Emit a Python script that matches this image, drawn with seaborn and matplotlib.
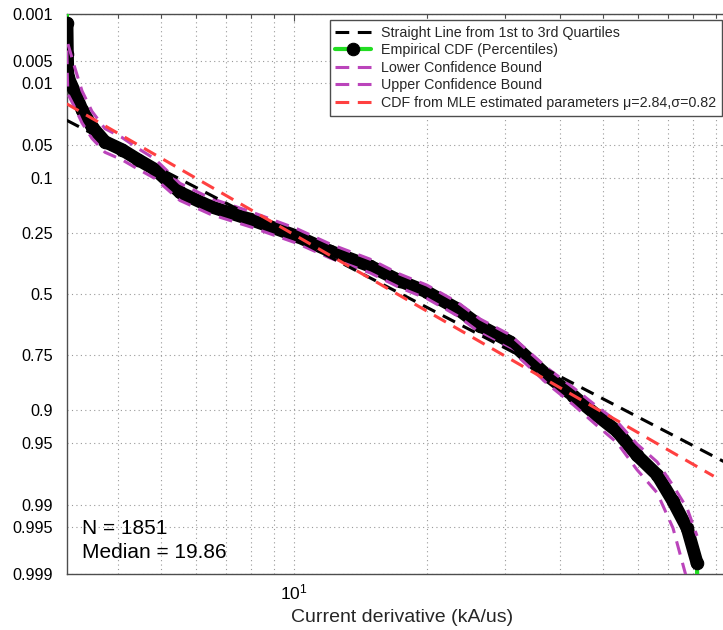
import numpy as np
import pandas as pd
import matplotlib
matplotlib.use("Agg")
import matplotlib.pyplot as plt
from matplotlib.ticker import FixedLocator, NullFormatter, FixedFormatter
import seaborn as sns
from statistics import NormalDist

# ---------------- data ----------------
p_emp = [0.0003, 0.0014, 0.004, 0.0083, 0.0132, 0.021, 0.0324, 0.0464, 0.0556, 0.069,
         0.0848, 0.131, 0.167, 0.205, 0.262, 0.318, 0.379, 0.443, 0.491, 0.565,
         0.637, 0.701, 0.816, 0.869, 0.910, 0.935, 0.9625, 0.977, 0.9889, 0.9951,
         0.9985, 0.9997]
x_emp = [3.06, 3.064, 3.07, 3.08, 3.196, 3.314, 3.49, 3.735, 4.08, 4.436,
         4.85, 5.52, 6.46, 7.95, 10.16, 12.06, 14.86, 17.37, 20.0, 23.4,
         26.35, 30.8, 37.4, 42.8, 48.5, 53.8, 59.7, 66.3, 72.0, 77.5,
         81.6, 81.8]
p_lower = [np.nan, np.nan, np.nan, 0.0029, 0.0064, 0.0125, 0.0219, 0.0340, 0.0420, 0.0540,
           0.0683, 0.1110, 0.1449, 0.1811, 0.2360, 0.2904, 0.3503, 0.4136, 0.4614, 0.5356,
           0.6085, 0.6739, 0.7931, 0.8490, 0.8931, 0.9204, 0.9512, 0.9681, 0.9827, 0.9910,
           0.9962, np.nan]
p_upper = [np.nan, 0.0036, 0.0077, 0.0137, 0.0200, 0.0295, 0.0429, 0.0589, 0.0692, 0.0840,
           0.1013, 0.1510, 0.1891, 0.2289, 0.2880, 0.3456, 0.4077, 0.4724, 0.5206, 0.5944,
           0.6655, 0.7281, 0.8390, 0.8890, 0.9270, 0.9496, 0.9738, 0.9859, 0.9951, 0.9992,
           0.99995, np.nan]
x_ref = [3.06, 100.0]          # straight line through 1st and 3rd quartiles
p_ref = [0.0276, 0.97255]
x_mle = [3.06, 89.0]           # lognormal CDF, mu=2.84, sigma=0.82
p_mle = [0.0179, 0.9778]

ytick_probs = [0.001, 0.005, 0.01, 0.05, 0.1, 0.25, 0.5, 0.75, 0.9, 0.95, 0.99, 0.995, 0.999]
ytick_labels = ['0.001', '0.005', '0.01', '0.05', '0.1', '0.25', '0.5', '0.75', '0.9',
                '0.95', '0.99', '0.995', '0.999']
n_obs = 1851
median_val = 19.86

# ---------------- helpers ----------------
ND = NormalDist()
def probit(ps):
    out = []
    for v in ps:
        if v is None or (isinstance(v, float) and np.isnan(v)) or v <= 0 or v >= 1:
            out.append(np.nan)
        else:
            out.append(ND.inv_cdf(v))
    return np.array(out)

sns.set_style("white")
plt.rcParams['font.family'] = ['Liberation Sans', 'DejaVu Sans']
plt.rcParams['mathtext.fontset'] = 'custom'
plt.rcParams['mathtext.rm'] = 'Liberation Sans'
plt.rcParams['mathtext.it'] = 'Liberation Sans:italic'

fig = plt.figure(figsize=(7.23, 6.3), dpi=100)
ax = fig.add_axes([67/723, 56/630, 662/723, 560/630])

df_emp = pd.DataFrame({'x': x_emp, 'z': probit(p_emp)})
df_lo = pd.DataFrame({'x': x_emp, 'z': probit(p_lower)})
df_hi = pd.DataFrame({'x': x_emp, 'z': probit(p_upper)})
df_ref = pd.DataFrame({'x': x_ref, 'z': probit(p_ref)})
df_mle = pd.DataFrame({'x': x_mle, 'z': probit(p_mle)})

green = '#22dd22'
magenta = '#bb44bb'
red = '#ff4040'

# empirical CDF: green line with black circle markers
sns.lineplot(data=df_emp, x='x', y='z', sort=False, estimator=None, ax=ax,
             color=green, lw=3, marker='o', markersize=9, markerfacecolor='k',
             markeredgecolor='k', zorder=3)
h_emp = ax.lines[-1]
# dense marker band
band = df_emp.iloc[1:-1]
sns.lineplot(data=band, x='x', y='z', sort=False, estimator=None, ax=ax,
             color='k', lw=9.3, solid_capstyle='round', solid_joinstyle='round', zorder=4)
ax.lines[-1].set_label('_nolegend_')

sns.lineplot(data=df_lo, x='x', y='z', sort=False, estimator=None, ax=ax,
             color=magenta, lw=2.2, zorder=5)
h_lo = ax.lines[-1]
sns.lineplot(data=df_hi, x='x', y='z', sort=False, estimator=None, ax=ax,
             color=magenta, lw=2.2, zorder=5)
h_hi = ax.lines[-1]
sns.lineplot(data=df_ref, x='x', y='z', sort=False, estimator=None, ax=ax,
             color='k', lw=2.2, zorder=6)
h_ref = ax.lines[-1]
sns.lineplot(data=df_mle, x='x', y='z', sort=False, estimator=None, ax=ax,
             color=red, lw=2.2, zorder=7)
h_mle = ax.lines[-1]
for h in (h_lo, h_hi, h_ref, h_mle):
    h.set_linestyle((0, (4.5, 2.8)))

# ---------------- axes ----------------
ax.set_xscale('log')
ax.set_xlim(3.0648, 96.4)
ax.set_ylim(ND.inv_cdf(0.999), ND.inv_cdf(0.001))
ax.set_yticks(probit(ytick_probs))
ax.set_yticklabels(ytick_labels)
ax.xaxis.set_major_locator(FixedLocator([10]))
ax.xaxis.set_major_formatter(FixedFormatter([r'$10^{1}$']))
ax.xaxis.set_minor_locator(FixedLocator([3, 4, 5, 6, 7, 8, 9, 20, 30, 40, 50, 60, 70, 80, 90]))
ax.xaxis.set_minor_formatter(NullFormatter())

ax.grid(True, which='both', axis='x', linestyle=(0, (1, 3)), color='0.6', lw=0.8)
ax.grid(True, which='major', axis='y', linestyle=(0, (1, 3)), color='0.6', lw=0.8)
ax.tick_params(which='both', direction='in', top=True, right=True, colors='0.3',
               labelcolor='k')
ax.tick_params(which='major', length=5, width=0.8)
ax.tick_params(which='minor', length=3, width=0.8)
ax.tick_params(axis='y', labelsize=11.7, pad=10)
ax.tick_params(axis='x', labelsize=12.5, pad=6)
for s in ax.spines.values():
    s.set_color('0.3')
    s.set_linewidth(1.0)

ax.set_ylabel('')
ax.set_xlabel('Current derivative (kA/us)', fontsize=14)
ax.xaxis.label.set_va('baseline')
ax.xaxis.set_label_coords((402 - 67) / 662, (574 - 622) / 560)

ax.text((82 - 67) / 662, (574 - 534) / 560, f'N = {n_obs}', transform=ax.transAxes,
        fontsize=15, va='baseline', ha='left', color='k')
ax.text((82 - 67) / 662, (574 - 558) / 560, f'Median = {median_val:.2f}',
        transform=ax.transAxes, fontsize=15, va='baseline', ha='left', color='k')

leg = ax.legend([h_ref, h_emp, h_lo, h_hi, h_mle],
                ['Straight Line from 1st to 3rd Quartiles', 'Empirical CDF (Percentiles)',
                 'Lower Confidence Bound', 'Upper Confidence Bound',
                 'CDF from MLE estimated parameters \u03bc=2.84,\u03c3=0.82'],
                loc='upper right', bbox_to_anchor=(722 / 723, (630 - 20) / 630),
                bbox_transform=fig.transFigure, borderaxespad=0, fontsize=10.3,
                frameon=True, fancybox=False, framealpha=1, edgecolor='0.3',
                handlelength=2.5, handletextpad=0.7, labelspacing=0.25,
                borderpad=0.4)
leg.get_frame().set_linewidth(1.0)
leg.set_zorder(10)

fig.savefig('out.png', dpi=100)
